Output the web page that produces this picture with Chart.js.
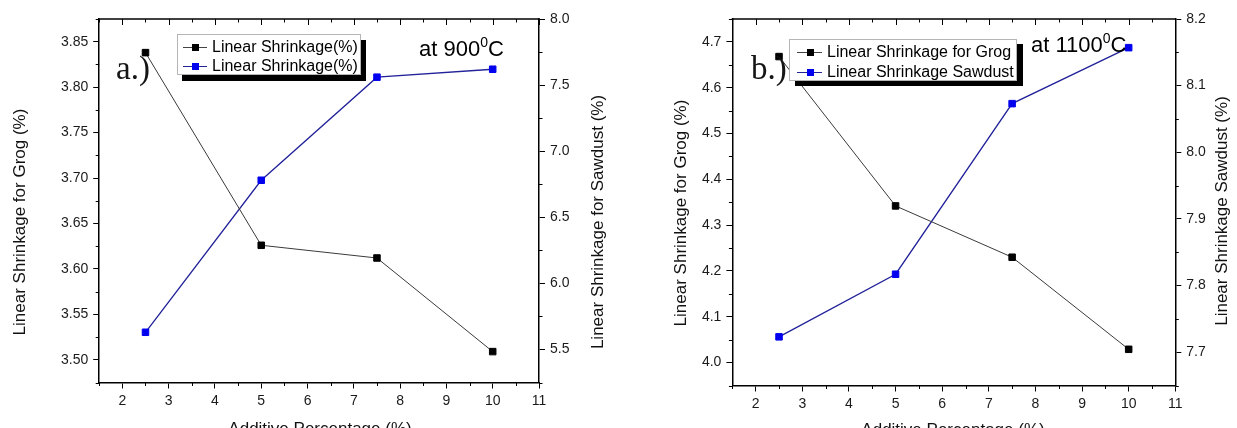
<!DOCTYPE html>
<html>
<head>
<meta charset="utf-8">
<title>Linear Shrinkage vs Additive Percentage</title>
<script src="https://cdn.jsdelivr.net/npm/chart.js@4.4.1/dist/chart.umd.min.js"></script>
<style>
  html, body { margin:0; padding:0; background:#fff; }
  body { width:1237px; height:428px; overflow:hidden; position:relative; font-family:"Liberation Sans", Arial, sans-serif; }
  canvas { position:absolute; top:0; }
  #cA { left:0; }
  #cB { left:620px; }
  .legend { position:absolute; background:#fff; border:1px solid #b5b5b5; box-sizing:border-box; }
  .legend .row { position:absolute; left:0; height:20px; line-height:20px; font-size:16px; color:#000; white-space:nowrap; }
  .legend .sw { position:absolute; top:10px; height:1px; }
  .legend .mk { position:absolute; top:7px; width:7px; height:7px; }
  .legend .tx { position:absolute; top:0; }
  .tag { position:absolute; font-family:"Liberation Serif", "Times New Roman", serif; font-size:33px; line-height:33px; color:#151515; white-space:nowrap; }
  .temp { position:absolute; font-size:22px; line-height:22px; color:#000; white-space:nowrap; }
  .temp sup { font-size:14px; line-height:0; vertical-align:9px; }
</style>
</head>
<body>
<canvas id="cA" width="620" height="428"></canvas>
<canvas id="cB" width="617" height="428"></canvas>

<div class="legend" style="left:177px;top:34px;width:184px;height:41px;box-shadow:5px 6px 0 0 #000;">
  <div class="row" style="top:2px;width:182px;">
    <div class="sw" style="left:5px;width:24px;background:#444;"></div>
    <div class="mk" style="left:14px;background:#000;"></div>
    <div class="tx" style="left:34px;">Linear Shrinkage(%)</div>
  </div>
  <div class="row" style="top:21px;width:182px;">
    <div class="sw" style="left:5px;width:24px;background:#22229a;"></div>
    <div class="mk" style="left:14px;background:#0000ee;"></div>
    <div class="tx" style="left:34px;">Linear Shrinkage(%)</div>
  </div>
</div>
<div class="tag" style="left:116px;top:51.7px;">a.)</div>
<div class="temp" style="left:419px;top:38px;">at 900<sup>0</sup>C</div>

<div class="legend" style="left:789px;top:39px;width:228px;height:42px;box-shadow:6px 5px 0 0 #000;">
  <div class="row" style="top:1.5px;width:226px;">
    <div class="sw" style="left:7px;width:25px;background:#444;"></div>
    <div class="mk" style="left:17px;background:#000;"></div>
    <div class="tx" style="left:37px;">Linear Shrinkage for Grog</div>
  </div>
  <div class="row" style="top:21.5px;width:226px;">
    <div class="sw" style="left:7px;width:25px;background:#22229a;"></div>
    <div class="mk" style="left:17px;background:#0000ee;"></div>
    <div class="tx" style="left:37px;">Linear Shrinkage Sawdust</div>
  </div>
</div>
<div class="tag" style="left:751px;top:51.7px;">b.)</div>
<div class="temp" style="left:1031px;top:34px;">at 1100<sup>0</sup>C</div>

<script>
// ---------- data ----------
const additivePct = [2.5, 5, 7.5, 10];
const grog900 = [3.838, 3.626, 3.612, 3.509];
const sawdust900 = [5.63, 6.78, 7.56, 7.62];
const grog1100 = [4.668, 4.342, 4.230, 4.029];
const sawdust1100 = [7.723, 7.817, 8.073, 8.157];

const xTickValues = [2, 3, 4, 5, 6, 7, 8, 9, 10, 11];
const grog900Ticks = [3.50, 3.55, 3.60, 3.65, 3.70, 3.75, 3.80, 3.85];
const sawdust900Ticks = [5.5, 6.0, 6.5, 7.0, 7.5, 8.0];
const grog1100Ticks = [4.0, 4.1, 4.2, 4.3, 4.4, 4.5, 4.6, 4.7];
const sawdust1100Ticks = [7.7, 7.8, 7.9, 8.0, 8.1, 8.2];

const xTitle = 'Additive Percentage (%)';
const legend900 = ['Linear Shrinkage(%)', 'Linear Shrinkage(%)'];
const legend1100 = ['Linear Shrinkage for Grog', 'Linear Shrinkage Sawdust'];

// ---------- helpers ----------
const pts = ys => additivePct.map((x, i) => ({ x: x, y: ys[i] }));
const FAMILY = "'Liberation Sans', Arial, sans-serif";
const tickFont = { family: FAMILY, size: 14 };
const titleFont = { family: FAMILY, size: 17 };

const framePlugin = {
  id: 'frame',
  afterDraw(chart, args, o) {
    const ctx = chart.ctx, a = chart.chartArea;
    const sx = chart.scales.x, sy = chart.scales.y, sy2 = chart.scales.y2;
    const seg = (x1, y1, x2, y2) => { ctx.beginPath(); ctx.moveTo(x1, y1); ctx.lineTo(x2, y2); ctx.stroke(); };
    const isMajor = (v, list) => list.some(t => Math.abs(t - v) < 1e-6);
    const steps = (min, max, step) => { const out = []; const n = Math.round((max - min) / step); for (let i = 0; i <= n; i++) out.push(min + i * step); return out; };
    ctx.save();
    ctx.strokeStyle = '#000';
    ctx.lineWidth = 1.5;
    seg(a.left - 0.75, a.top, a.right + 0.75, a.top);
    ctx.lineWidth = 1;
    steps(sx.min, sx.max, o.xMinor).forEach(v => {
      const p = Math.round(sx.getPixelForValue(v)) + 0.5;
      const maj = isMajor(v, o.xMajor);
      if (!maj) seg(p, a.bottom, p, a.bottom + o.minorLen);
      seg(p, a.top, p, a.top + (maj ? o.majorLen : o.minorLen));
    });
    steps(sy.min, sy.max, o.yMinor).forEach(v => {
      if (isMajor(v, o.yMajor)) return;
      const p = Math.round(sy.getPixelForValue(v)) + 0.5;
      seg(a.left, p, a.left - o.minorLen, p);
    });
    steps(sy2.min, sy2.max, o.y2Minor).forEach(v => {
      if (isMajor(v, o.y2Major)) return;
      const p = Math.round(sy2.getPixelForValue(v)) + 0.5;
      seg(a.right, p, a.right + o.minorLen, p);
    });
    ctx.restore();
  }
};

const titlePlugin = {
  id: 'titlePlace',
  beforeDraw(chart, args, o) {
    Object.values(chart.scales).forEach(s => {
      const pos = o[s.id];
      if (!pos) return;
      s.drawTitle = function () {
        const t = this.options.title;
        if (!t.display) return;
        const ctx = this.ctx;
        ctx.save();
        ctx.translate(pos[0], pos[1]);
        if (!this.isHorizontal()) ctx.rotate(-Math.PI / 2);
        ctx.font = t.font.size + 'px ' + t.font.family;
        ctx.fillStyle = t.color;
        ctx.textAlign = 'center';
        ctx.textBaseline = 'middle';
        ctx.fillText(t.text, 0, 0);
        ctx.restore();
      };
    });
  }
};

function axis(position, min, max, ticks, decimals, title, fitFn) {
  return {
    type: 'linear', position: position, min: min, max: max,
    afterBuildTicks: s => { s.ticks = ticks.map(v => ({ value: v })); },
    afterFit: fitFn,
    ticks: { font: tickFont, color: '#1a1a1a', padding: 5, maxRotation: 0, autoSkip: false,
             callback: v => Number(v).toFixed(decimals) },
    grid: { display: true, drawOnChartArea: false, drawTicks: true, tickLength: 6, color: '#000', lineWidth: 1 },
    border: { display: true, color: '#000', width: 1.5 },
    title: { display: true, text: title, font: titleFont, color: '#111' }
  };
}

function makeChart(id, geo, series, labels, ax, titlePos) {
  const datasets = [
    { label: labels[0], data: pts(series[0]), yAxisID: 'y',
      borderColor: '#3a3a3a', borderWidth: 1, tension: 0, fill: false,
      pointStyle: 'rect', pointRadius: 4.6, pointBackgroundColor: '#000', pointBorderColor: '#000', pointBorderWidth: 1 },
    { label: labels[1], data: pts(series[1]), yAxisID: 'y2',
      borderColor: '#22229a', borderWidth: 1.3, tension: 0, fill: false,
      pointStyle: 'rect', pointRadius: 4.6, pointBackgroundColor: '#0000ee', pointBorderColor: '#0000ee', pointBorderWidth: 1 }
  ];
  const xAxis = axis('bottom', 1.5, 11, xTickValues, 0, xTitle, s => { s.height = geo.H - geo.bottom; });
  xAxis.ticks.padding = 4;
  return new Chart(document.getElementById(id), {
    type: 'line',
    data: { datasets: datasets },
    options: {
      responsive: false, animation: false, devicePixelRatio: 1, events: [],
      layout: { padding: { top: geo.top, left: 0, right: 0, bottom: 0 } },
      plugins: {
        legend: { display: false }, tooltip: { enabled: false },
        frame: { xMinor: 0.5, xMajor: xTickValues, yMinor: ax.yMinor, yMajor: ax.yTicks,
                 y2Minor: ax.y2Minor, y2Major: ax.y2Ticks, majorLen: 6, minorLen: 3.5 },
        titlePlace: titlePos
      },
      scales: {
        x: xAxis,
        y: axis('left', ax.yMin, ax.yMax, ax.yTicks, ax.yDec, ax.yTitle, s => { s.width = geo.left; }),
        y2: axis('right', ax.y2Min, ax.y2Max, ax.y2Ticks, ax.y2Dec, ax.y2Title, s => { s.width = geo.W - geo.right; })
      }
    },
    plugins: [framePlugin, titlePlugin]
  });
}

makeChart('cA',
  { W: 620, H: 428, left: 99.2, right: 539, top: 19, bottom: 382.5 },
  [grog900, sawdust900], legend900,
  { yMin: 3.475, yMax: 3.875, yTicks: grog900Ticks, yDec: 2, yMinor: 0.025, yTitle: 'Linear Shrinkage for Grog (%)',
    y2Min: 5.25, y2Max: 8.0, y2Ticks: sawdust900Ticks, y2Dec: 1, y2Minor: 0.25, y2Title: 'Linear Shrinkage for Sawdust (%)' },
  { x: [320, 429.5], y: [20, 222], y2: [598, 222] });

makeChart('cB',
  { W: 617, H: 428, left: 112.4, right: 555.3, top: 19, bottom: 385.5 },
  [grog1100, sawdust1100], legend1100,
  { yMin: 3.95, yMax: 4.75, yTicks: grog1100Ticks, yDec: 1, yMinor: 0.05, yTitle: 'Linear Shrinkage for Grog (%)',
    y2Min: 7.65, y2Max: 8.2, y2Ticks: sawdust1100Ticks, y2Dec: 1, y2Minor: 0.05, y2Title: 'Linear Shrinkage Sawdust (%)' },
  { x: [333, 430], y: [61, 213], y2: [602, 211] });
</script>
</body>
</html>
